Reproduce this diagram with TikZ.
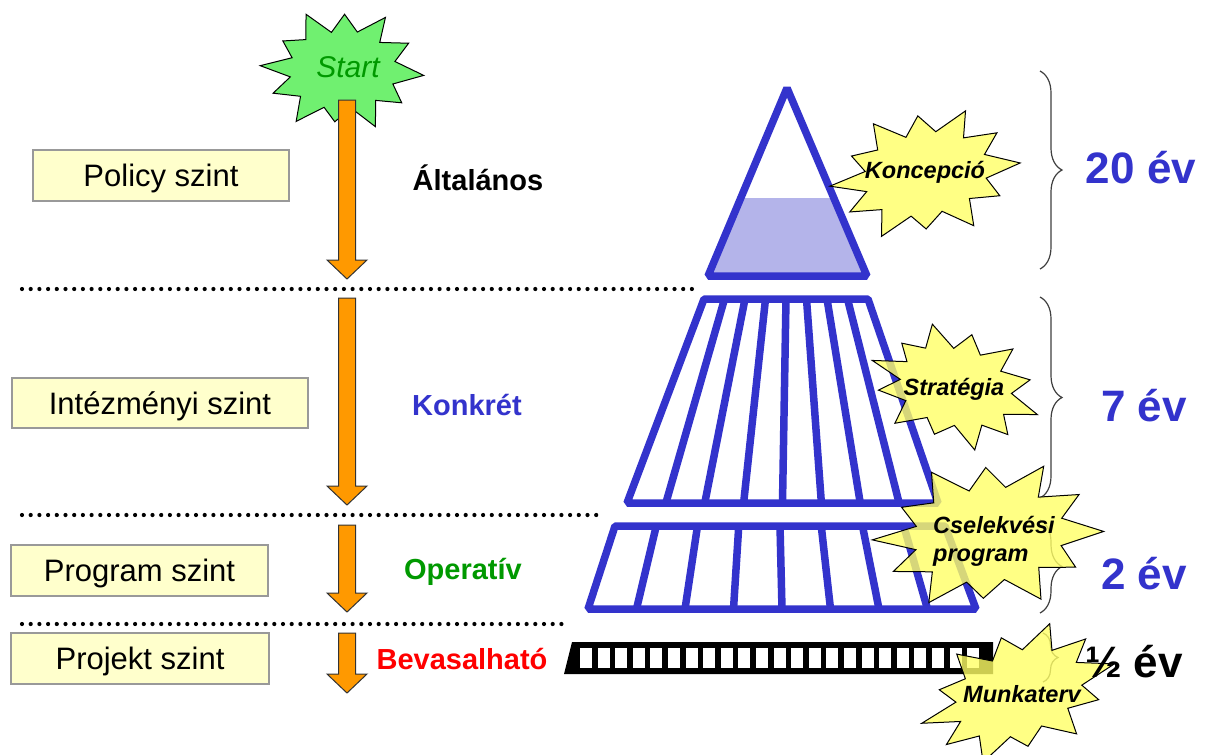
\documentclass[tikz,border=0pt]{standalone}
\usepackage{fontspec}
\setmainfont{Liberation Sans}
\usetikzlibrary{calc,decorations.pathreplacing}
\definecolor{pblue}{HTML}{3333CC}
\definecolor{boxyellow}{HTML}{FFFFCC}
\definecolor{boxgray}{HTML}{999999}
\definecolor{arrorange}{HTML}{FF9900}
\definecolor{startgreen}{HTML}{70F070}
\definecolor{darkgreen}{HTML}{009900}
\definecolor{boomyellow}{HTML}{FFFF66}
\definecolor{stipple}{HTML}{B4B4EA}
\newcommand\boomshape[5]{%
  \begin{scope}[shift={#1}, rotate=#4, xscale=#2, yscale=#3]
    \path[#5] (5:1) \foreach \a/\r in {20/0.66,36/0.9,50/0.64,66/1.0,80/0.62,96/0.84,110/0.64,124/1.0,140/0.66,156/0.92,170/0.64,184/1.0,198/0.64,213/0.86,228/0.66,244/1.0,258/0.62,272/0.9,287/0.64,302/1.0,316/0.64,332/0.92,348/0.66} { -- (\a:\r) } -- cycle;
  \end{scope}}
\newcommand\orangedown[4]{% name, x, ytop, ytip
  \coordinate (#1top) at (#2,#3);
  \coordinate (#1tip) at (#2,#4);
  \path[orangearr] ($(#1top)+(-8.5,0)$) -- ($(#1top)+(8.5,0)$) -- ($(#1tip)+(8.5,-19)$) -- ($(#1tip)+(20,-19)$) -- (#1tip) -- ($(#1tip)+(-20,-19)$) -- ($(#1tip)+(-8.5,-19)$) -- cycle;}
\begin{document}
\begin{tikzpicture}[x=1pt,y=-1pt,
  lvlbox/.style={draw=boxgray, line width=1.5pt, fill=boxyellow, minimum height=51pt, inner sep=0pt, text height=22pt, text depth=0pt, font=\fontsize{31}{33}\selectfont},
  midlbl/.style={font=\fontsize{29}{32}\selectfont\bfseries},
  yearlbl/.style={font=\fontsize{44}{48}\selectfont\bfseries, text=pblue},
  blueline/.style={draw=pblue, line width=7.5pt, line join=bevel},
  boomfill/.style={fill=boomyellow, fill opacity=0.8, draw=black, line width=1pt},
  boomtxt/.style={font=\fontsize{23.5}{28}\selectfont\bfseries\itshape, align=left, inner sep=0pt},
  dotline/.style={line width=4.2pt, line cap=round, dash pattern=on 0pt off 8.7pt},
  orangearr/.style={fill=arrorange, draw=black!80, line width=1pt},
  bracestyle/.style={draw=black!75, line width=1.2pt, decorate, decoration={brace, amplitude=#1}},
  bracestyle/.default=22pt]
\useasboundingbox (0,0) rectangle (1208,755);
\fill[white] (0,0) rectangle (1208,755);

% dotted separators
\coordinate (d1a) at (22,289); \coordinate (d1b) at (695,289);
\coordinate (d2a) at (22,515); \coordinate (d2b) at (598,515);
\coordinate (d3a) at (22,624); \coordinate (d3b) at (566,624);
\draw[dotline] (d1a) -- (d1b);
\draw[dotline] (d2a) -- (d2b);
\draw[dotline] (d3a) -- (d3b);

% level boxes
\node[lvlbox, minimum width=256pt] (policy) at (161,175.5) {Policy szint};
\node[lvlbox, minimum width=296pt, minimum height=50pt] (intez) at (160,403) {Intézményi szint};
\node[lvlbox, minimum width=257pt] (program) at (139.5,570.5) {Program szint};
\node[lvlbox, minimum width=258pt] (projekt) at (140,658.5) {Projekt szint};

% start star
\boomshape{(342,70)}{82}{62}{0}{fill=startgreen, draw=black, line width=1pt}
\node[font=\fontsize{30}{32}\selectfont\itshape, text=darkgreen] (start) at (348,67) {Start};

% orange arrows
\orangedown{a1}{347}{100}{279}
\orangedown{a2}{347}{298}{505}
\orangedown{a3}{347}{525}{612}
\orangedown{a4}{347}{633}{693}

% middle labels
\node[midlbl] (alt) at (478,178) {Általános};
\node[midlbl, text=pblue] (konk) at (467,405) {Konkrét};
\node[midlbl, text=darkgreen] (oper) at (463,572) {Operatív};
\node[midlbl, text=red] (bevas) at (462,659) {Bevasalható};

% triangle
\coordinate (tA) at (787,88);
\coordinate (tL) at (708,276);
\coordinate (tR) at (867,276);
\begin{scope}
  \clip (tA) -- (tL) -- (tR) -- cycle;
  \fill[stipple] (690,198) rectangle (880,280);
\end{scope}
\draw[blueline] (tA) -- (tL) -- (tR) -- cycle;

% trapezoid 1
\coordinate (p1tl) at (704,299); \coordinate (p1tr) at (868,299);
\coordinate (p1br) at (938,503); \coordinate (p1bl) at (627,503);
\draw[blueline] (p1tl) -- (p1tr) -- (p1br) -- (p1bl) -- cycle;
\foreach \i in {1,...,7}
  \draw[blueline] ($(p1tl)!\i/8!(p1tr)$) -- ($(p1bl)!\i/8!(p1br)$);

% trapezoid 2
\coordinate (p2tl) at (615,526); \coordinate (p2tr) at (945,526);
\coordinate (p2br) at (976,609); \coordinate (p2bl) at (588,609);
\draw[blueline] (p2tl) -- (p2tr) -- (p2br) -- (p2bl) -- cycle;
\foreach \i in {1,...,7}
  \draw[blueline] ($(p2tl)!\i/8!(p2tr)$) -- ($(p2bl)!\i/8!(p2br)$);

% black bar
\fill[black] (572,642) -- (993,642) -- (993,674) -- (564,674) -- cycle;
\foreach \i in {0,...,22}
  \fill[white] ({580+17.6*\i},648) rectangle ({592+17.6*\i},668);

% braces
\draw[bracestyle] (1040,71) -- (1040,269);
\draw[bracestyle] (1040,297) -- (1040,498);
\draw[bracestyle] (1040,520) -- (1040,613);
\draw[bracestyle=15pt] (1043,633) -- (1043,682);

% explosions
\boomshape{(925,174)}{96}{65}{10}{boomfill}
\node[boomtxt] (konc) at (925,172) {Koncepció};
\boomshape{(955,387)}{87}{61}{-15}{boomfill}
\node[boomtxt] (strat) at (954,389) {Stratégia};
\boomshape{(988,535)}{116}{75}{5}{boomfill}
\node[boomtxt, anchor=west] (csel) at (933,541) {Cselekvési\\program};
\boomshape{(1018,693)}{101}{64}{20}{boomfill}
\node[boomtxt] (munk) at (1022,694) {Munkaterv};

% year labels
\node[yearlbl] (y20) at (1141,168) {20 év};
\node[yearlbl] (y7) at (1144,406) {7 év};
\node[yearlbl] (y2) at (1144,574) {2 év};
\node[yearlbl, text=black] (yhalf) at (1134,662) {½ év};
\end{tikzpicture}
\end{document}
